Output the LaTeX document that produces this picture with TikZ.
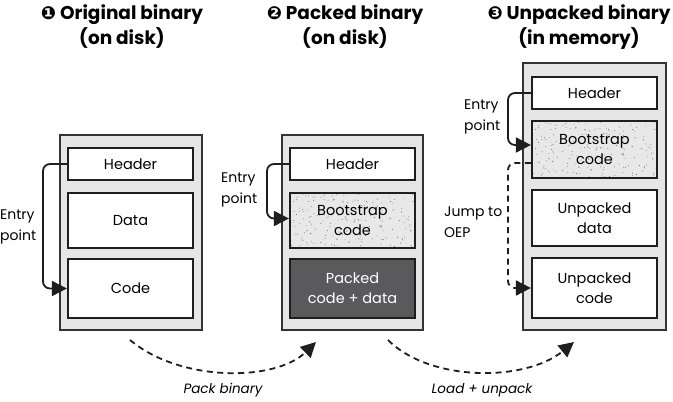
\documentclass[tikz,border=0pt]{standalone}
\usepackage{fontspec}
\setmainfont{Poppins}
\newfontfamily\dejavu{DejaVu Sans}
\usetikzlibrary{arrows.meta,calc}
\definecolor{outerfill}{HTML}{E6E6E6}
\definecolor{outerline}{HTML}{333333}
\definecolor{innerline}{HTML}{1E1E1E}
\definecolor{stipfill}{HTML}{E8E8E8}
\definecolor{packfill}{HTML}{5A5A5C}
\tikzset{
  outerbox/.style={draw=outerline, line width=1.6pt, fill=outerfill, inner sep=0pt},
  innerbox/.style={draw=innerline, line width=2.2pt, fill=white, minimum width=125pt, inner sep=0pt,
    align=center, font=\fontsize{14.5}{20}\selectfont},
  stipbox/.style={innerbox, fill=stipfill, path picture={
      \pgfmathsetmacro\dummy{0}
      \pgfmathsetseed{7}
      \foreach \i in {1,...,230}{
        \fill[black!60] ($(path picture bounding box.north west)+(rnd*126,rnd*60)$) circle (0.45pt);
      }}},
  packbox/.style={innerbox, fill=packfill, text=white},
  titlelbl/.style={align=center, font=\fontsize{18.5}{25}\selectfont\bfseries},
  sidelbl/.style={align=left, anchor=west, inner sep=0pt, font=\fontsize{14}{20.5}\selectfont},
  steplbl/.style={inner sep=0pt, font=\fontsize{13.5}{20}\selectfont\itshape},
  tipend/.style={-{Triangle[length=15pt,width=15pt,sharp]}},
  conn/.style={line width=1.8pt, draw=innerline, rounded corners=7pt, tipend},
  dconn/.style={conn, dash pattern=on 6pt off 4.5pt},
}
\begin{document}
\begin{tikzpicture}[x=1pt,y=-1pt]
\useasboundingbox (0,0) rectangle (673,402);

% titles
\node[titlelbl] (t1) at (122,27) {{\dejavu\fontsize{18}{25}\selectfont ❶} Original binary\\(on disk)};
\node[titlelbl] (t2) at (345,27) {{\dejavu\fontsize{18}{25}\selectfont ❷} Packed binary\\(on disk)};
\node[titlelbl] (t3) at (579,27) {{\dejavu\fontsize{18}{25}\selectfont ❸} Unpacked binary\\(in memory)};

% outer boxes
\node[outerbox, minimum width=142pt, minimum height=195pt] (b1) at (131,232.5) {};
\node[outerbox, minimum width=141pt, minimum height=195pt] (b2) at (352.5,232.5) {};
\node[outerbox, minimum width=143pt, minimum height=267pt] (b3) at (594.5,196.5) {};

% box 1
\node[innerbox, minimum height=32pt] (h1) at (130.5,164) {Header};
\node[innerbox, minimum height=55pt] (d1) at (130.5,220.5) {Data};
\node[innerbox, minimum height=59pt] (c1) at (130.5,288.5) {Code};

% box 2
\node[innerbox, minimum height=32pt] (h2) at (352.5,164) {Header};
\node[stipbox, minimum height=55pt] (s2) at (352.5,220.5) {Bootstrap\\code};
\node[packbox, minimum height=59pt] (p2) at (352.5,288.5) {Packed\\code + data};

% box 3
\node[innerbox, minimum height=32pt] (h3) at (594.5,93) {Header};
\node[stipbox, minimum height=57pt] (s3) at (594.5,149.5) {Bootstrap\\code};
\node[innerbox, minimum height=56pt] (d3) at (594.5,218) {Unpacked\\data};
\node[innerbox, minimum height=60pt] (c3) at (594.5,288) {Unpacked\\code};

% side labels
\node[sidelbl] (e1l) at (0,227) {Entry\\point};
\node[sidelbl] (e2l) at (221,190) {Entry\\point};
\node[sidelbl] (e3l) at (464,117) {Entry\\point};
\node[sidelbl] (jl) at (444,222) {Jump to\\OEP};

% entry connectors
\coordinate (x1) at (43,0);
\coordinate (x2) at (267,0);
\coordinate (x3) at (508,0);
\draw[conn] (h1.west) -- (h1.west -| x1) |- (c1.west);
\draw[conn] (h2.west) -- (h2.west -| x2) |- ([yshift=2pt]s2.west);
\draw[conn] (h3.west) -- (h3.west -| x3) |- ([yshift=4.5pt]s3.west);
\draw[dconn] ([yshift=-13.5pt]s3.west) -- ([yshift=-13.5pt]s3.west -| x3) |- (c3.west);

% bottom connectors
\coordinate (a1s) at (130,340);
\coordinate (a1e) at (316,342);
\coordinate (a2s) at (388,340);
\coordinate (a2e) at (574,342);
\draw[dconn] (a1s) .. controls (180,382) and (275,382) .. (a1e);
\draw[dconn] (a2s) .. controls (430,382) and (525,382) .. (a2e);
\node[steplbl] (l1) at (223,390) {Pack binary};
\node[steplbl] (l2) at (482,390) {Load + unpack};
\end{tikzpicture}
\end{document}
